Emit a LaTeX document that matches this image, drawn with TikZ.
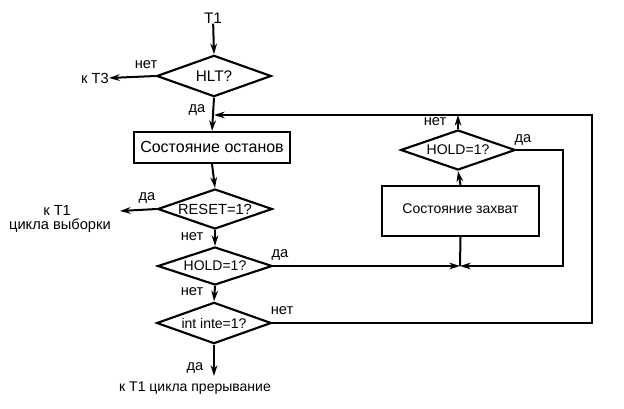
\documentclass[tikz,border=0pt]{standalone}
\usepackage{fontspec}
\setmainfont{Liberation Sans}
\usetikzlibrary{shapes.geometric,arrows.meta}

\begin{document}
\begin{tikzpicture}[x=0.75pt, y=-0.75pt,
    decision/.style={diamond, draw, line width=1.6pt, inner sep=0pt, aspect=3.2,
        minimum width=86pt, minimum height=30pt,
        font=\fontsize{10.5}{12}\selectfont},
    process/.style={rectangle, draw, line width=1.5pt, inner xsep=0pt, inner ysep=0pt},
    flow/.style={line width=1.5pt, -{Stealth[length=8pt,width=5pt]}},
    wire/.style={line width=1.5pt},
    lbl/.style={inner sep=0pt, font=\fontsize{11}{13}\selectfont}]

    \useasboundingbox (0,0) rectangle (624,408);

    % Entry T1 and HLT test
    \node[lbl, font=\fontsize{11.5}{13}\selectfont] (t1) at (213,18) {T1};
    \node[decision, minimum width=86pt, minimum height=31pt,
          font=\fontsize{11.5}{13}\selectfont] (hlt) at (214,76) {HLT?};
    \node[lbl] (kt3) at (95,78) {к Т3};
    \draw[flow] (t1) -- (hlt.north);
    \draw[flow] (hlt.west) -- (kt3.east);
    \node[lbl] at (146,65) {нет};
    \node[lbl] at (197,110) {да};

    % Halt state
    \node[process, minimum width=117pt, text height=15pt, text depth=8.25pt,
          font=\fontsize{12}{14}\selectfont] (halt) at (212,147.5) {Состояние останов};
    \draw[flow] (hlt.south) -- (halt.north);

    % RESET test
    \node[decision, minimum height=30pt, font=\fontsize{11}{13}\selectfont]
          (reset) at (215,209) {RESET=1?};
    \draw[flow] (halt.south) -- (reset.north);
    \node[lbl, anchor=east] (kt1a) at (111,226) {цикла выборки};
    \node[lbl, anchor=west] (kt1) at (43,210) {к Т1};
    \coordinate (resetout) at (120,211);
    \draw[flow] (reset.west) -- (resetout);
    \node[lbl] at (147,198) {да};
    \node[lbl] at (192,237) {нет};

    % HOLD test
    \node[decision, minimum height=28.5pt] (hold) at (215,266) {HOLD=1?};
    \draw[flow] (reset.south) -- (hold.north);
    \node[lbl] at (280,255) {да};
    \node[lbl] at (192,292) {нет};

    % int inte test
    \node[decision, minimum height=31pt] (inte) at (214,323) {int inte=1?};
    \draw[flow] (hold.south) -- (inte.north);
    \node[lbl] at (282,311) {нет};
    \node[lbl] at (195,368) {да};
    \node[lbl, font=\fontsize{10.5}{12}\selectfont] (kt1b) at (195,388) {к Т1 цикла прерывание};
    \coordinate (inteout) at (214,376);
    \draw[flow] (inte.south) -- (inteout);

    % Hold acknowledge loop
    \node[process, minimum width=117.75pt, text height=20.25pt, text depth=17.25pt,
          font=\fontsize{10.5}{12}\selectfont] (capture) at (460.5,211) {Состояние захват};
    \node[decision, minimum height=30pt] (hold2) at (458,150) {HOLD=1?};
    \coordinate (join) at (460,266);
    \coordinate (top) at (458,115);
    \coordinate (merge) at (214,115);
    \draw[flow] (hold.east) -- (join);
    \draw[flow] (hold2.east) -- (563,150) -- (563,266) -- (join);
    \draw[wire] (join) -- (capture.south);
    \draw[flow] (capture.north) -- (hold2.south);
    \draw[flow] (hold2.north) -- (top);
    \node[lbl] at (435,122) {нет};
    \node[lbl] at (523,140) {да};

    % Return path to the halt state
    \draw[flow] (inte.east) -- (592,323) -- (592,115) -- (merge);

\end{tikzpicture}
\end{document}
